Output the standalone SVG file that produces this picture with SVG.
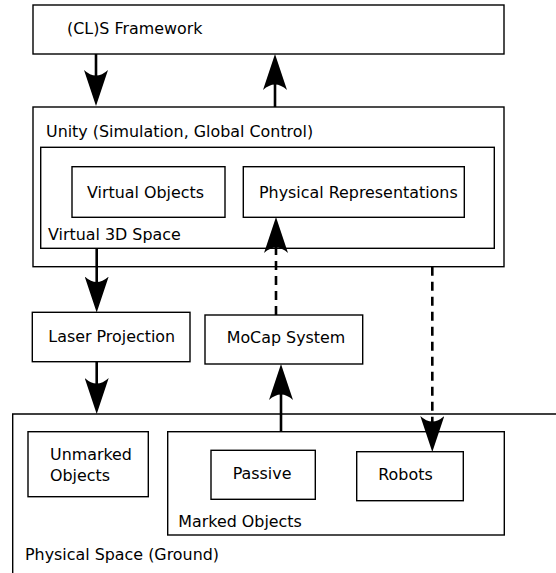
<svg xmlns="http://www.w3.org/2000/svg" width="556" height="573" viewBox="0 0 556 573">
<style>
.box{fill:#fff;stroke:#000;stroke-width:1.4}
.lbl{font-family:"DejaVu Sans",sans-serif;font-size:15.9px;fill:#000}
.con{fill:none;stroke:#000;stroke-width:2.6}
.dash{stroke-dasharray:9,6}
</style>
<defs>
<marker id="ah" markerUnits="userSpaceOnUse" viewBox="0 0 36 24" refX="9" refY="12" markerWidth="36" markerHeight="24" orient="auto">
<path d="M36,12 L0,0 Q11,12 0,24 Z" fill="#000"/>
</marker>
</defs>
<rect width="556" height="573" fill="#fff"/>
<g id="physical-space"><path class="box" d="M557,414 H12.7 V575"/><text class="lbl" x="25" y="560">Physical Space (Ground)</text></g>
<g id="unmarked"><rect class="box" x="28" y="431.7" width="120.3" height="65"/><text class="lbl" x="50" y="460">Unmarked</text><text class="lbl" x="50" y="481">Objects</text></g>
<g id="marked"><rect class="box" x="167.7" y="431.7" width="336.6" height="103.3"/><text class="lbl" x="178.3" y="526.7">Marked Objects</text></g>
<g id="passive"><rect class="box" x="211" y="450.3" width="104.3" height="49"/><text class="lbl" x="232.7" y="479">Passive</text></g>
<g id="robots"><rect class="box" x="356.7" y="451.7" width="106.6" height="49"/><text class="lbl" x="378.3" y="480.3">Robots</text></g>
<g id="cls"><rect class="box" x="33" y="5" width="471" height="49"/><text class="lbl" x="67" y="34">(CL)S Framework</text></g>
<g id="unity"><rect class="box" x="33" y="107" width="471" height="159.7"/><text class="lbl" x="46" y="136.7">Unity (Simulation, Global Control)</text></g>
<g id="virtual-space"><rect class="box" x="40.7" y="147.3" width="453.6" height="101"/><text class="lbl" x="48" y="240">Virtual 3D Space</text></g>
<g id="virtual-objects"><rect class="box" x="72" y="166.7" width="153" height="50.6"/><text class="lbl" x="87" y="198">Virtual Objects</text></g>
<g id="physical-rep"><rect class="box" x="243.3" y="166.7" width="221" height="50.6"/><text class="lbl" x="259" y="198">Physical Representations</text></g>
<g id="laser"><rect class="box" x="32.3" y="312.3" width="157.7" height="49.4"/><text class="lbl" x="48.3" y="341.7">Laser Projection</text></g>
<g id="mocap"><rect class="box" x="205" y="315" width="157.7" height="49"/><text class="lbl" x="226.7" y="343.3">MoCap System</text></g>
<g id="connectors">
<path class="con" d="M96,54 V79" marker-end="url(#ah)"/>
<path class="con" d="M275,107 V81" marker-end="url(#ah)"/>
<path class="con" d="M96.7,248.3 V285.5" marker-end="url(#ah)"/>
<path class="con" d="M96.7,361.7 V387" marker-end="url(#ah)"/>
<path class="con" d="M281,431.7 V391" marker-end="url(#ah)"/>
<path class="con dash" d="M276,315 V244" marker-end="url(#ah)"/>
<path class="con dash" d="M432.3,266.7 V425" marker-end="url(#ah)"/>
</g>
</svg>
